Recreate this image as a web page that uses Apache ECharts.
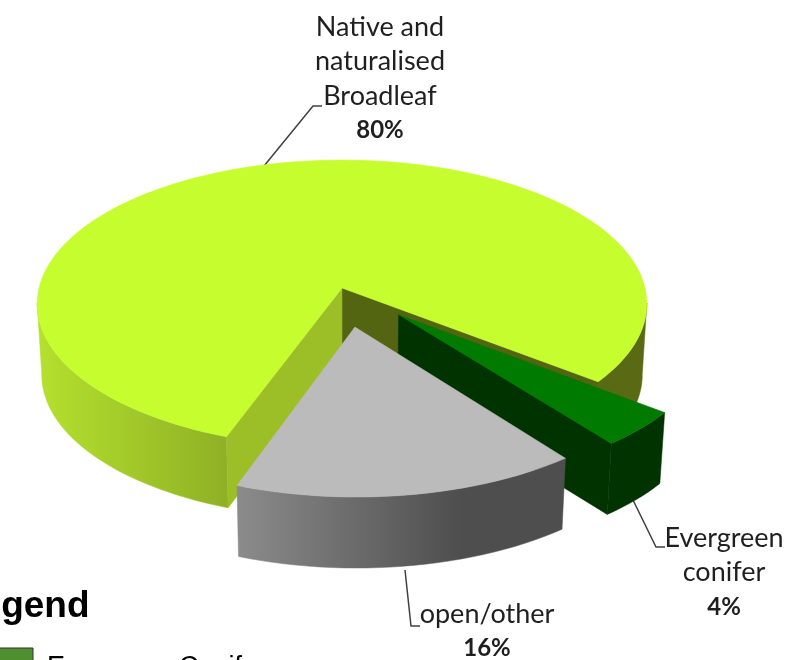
<!DOCTYPE html>
<html>
<head>
<meta charset="utf-8">
<style>html,body{margin:0;padding:0;background:#fff}#c{width:808px;height:660px}</style>
<script src="https://cdn.jsdelivr.net/npm/echarts@6/dist/echarts.min.js"></script>
</head>
<body>
<div id="c"></div>
<script>
// Data, in order round the pie
var categories = ['open/other', 'Evergreen conifer', 'Native and naturalised Broadleaf'];
var values = [16, 4, 80];
var explode = [0.27, 0.26, 0];
var labelLines = [['open/other'], ['Evergreen', 'conifer'], ['Native and', 'naturalised', 'Broadleaf']];
var legendTitle = 'Legend';
var legendEntry = 'Evergreen Conifer';

// Pie projection (layout)
var X0 = 342, Y0 = 288, RX = 303, RY = 142, PERSP = 0.11, DROP = 71, SHRINK = 0.985, START_DEG = -20;
var WALL_RIGHT_END = 84, WALL_LEFT_START = 276;

function project(u, v, low) {
  var f = 1 / (1 - PERSP * v);
  var x = X0 + RX * u * f, y = Y0 + RY * v * f;
  if (low) { x = X0 + (x - X0) * SHRINK; y += DROP; }
  return [x, y];
}
var total = values.reduce(function (a, b) { return a + b; }, 0);
var slices = [], acc = START_DEG;
values.forEach(function (val, i) {
  var sweep = val / total * 360;
  var mid = (acc + sweep / 2) * Math.PI / 180;
  slices.push({ a0: acc, a1: acc + sweep, ou: explode[i] * Math.sin(mid), ov: explode[i] * Math.cos(mid) });
  acc += sweep;
});
function arc(s, a0, a1, low) {
  var pts = [], n = Math.max(2, Math.ceil((a1 - a0) / 2));
  for (var k = 0; k <= n; k++) {
    var a = (a0 + (a1 - a0) * k / n) * Math.PI / 180;
    pts.push(project(Math.sin(a) + s.ou, Math.cos(a) + s.ov, low));
  }
  return pts;
}
function apex(s, low) { return project(s.ou, s.ov, low); }
function poly(points, fill) {
  return { type: 'polygon', shape: { points: points }, style: { fill: fill, stroke: fill, lineWidth: 0.5 } };
}
function wall(s, a0, a1, fill) {
  return poly(arc(s, a0, a1, false).concat(arc(s, a0, a1, true).reverse()), fill);
}
function cut(s, a, fill) {
  var e = arc(s, a, a, false)[0], el = arc(s, a, a, true)[0];
  return poly([apex(s, false), e, el, apex(s, true)], fill);
}
function hGrad(x0, x1, stops) {
  return new echarts.graphic.LinearGradient(x0, 0, x1, 0, stops, true);
}
var builders = [
  function (s) { // open/other
    return [
      wall(s, s.a0, s.a1, hGrad(235, 460, [{ offset: 0, color: '#8c8c8c' }, { offset: 1, color: '#4e4e4e' }])),
      poly(arc(s, s.a0, s.a1, false).concat([apex(s, false)]), '#bbbbbb')
    ];
  },
  function (s) { // evergreen
    return [
      cut(s, s.a0, '#003300'),
      wall(s, s.a0, s.a1, '#003300'),
      poly(arc(s, s.a0, s.a1, false).concat([apex(s, false)]), '#007a00')
    ];
  },
  function (s) { // broadleaf
    return [
      wall(s, s.a0, WALL_RIGHT_END, '#5a6a14'),
      wall(s, WALL_LEFT_START, s.a1, hGrad(40, 228, [{ offset: 0, color: '#b4e02e' }, { offset: 1, color: '#8fb025' }])),
      cut(s, s.a0, '#546512'),
      cut(s, s.a1, '#9cbf28'),
      poly(arc(s, s.a0, s.a1, false).concat([apex(s, false)]), '#c6fd2f')
    ];
  }
];

// Text and leader layout
var FONT = 'Lato, Carlito, sans-serif', TXT = '#1f1f1f';
var labelPos = [{ x: 487, y: 614 }, { x: 724, y: 538 }, { x: 380, y: 27 }];
var leaders = [
  [[405, 570], [411, 626], [420, 626]],
  [[633, 500], [656, 547], [665, 547]],
  [[264, 166], [313, 106], [322, 106]]
];
var LINE_H = 34.5;
var graphics = [];
leaders.forEach(function (pts) {
  graphics.push({ type: 'polyline', z: 1, shape: { points: pts }, style: { stroke: '#404040', lineWidth: 1.5, fill: null } });
});
labelLines.forEach(function (lines, i) {
  lines.forEach(function (t, j) {
    graphics.push({ type: 'text', z: 5, x: labelPos[i].x, y: labelPos[i].y + j * LINE_H,
      style: { text: t, font: '27px ' + FONT, fill: TXT, align: 'center', verticalAlign: 'middle' } });
  });
  graphics.push({ type: 'text', z: 5, x: labelPos[i].x, y: labelPos[i].y + lines.length * LINE_H,
    style: { text: values[i] + '%', font: 'bold 24px ' + FONT, fill: TXT, align: 'center', verticalAlign: 'middle' } });
});
graphics.push({ type: 'text', z: 5, x: -42, y: 607,
  style: { text: legendTitle, font: 'bold 37px "Liberation Sans", Arial, sans-serif', fill: '#000', align: 'left', verticalAlign: 'middle' } });
graphics.push({ type: 'rect', z: 5, shape: { x: -4, y: 648, width: 37, height: 24 }, style: { fill: '#4f8f2f', stroke: '#333', lineWidth: 1 } });
graphics.push({ type: 'text', z: 5, x: 47, y: 668,
  style: { text: legendEntry, font: '27px "Liberation Sans", Arial, sans-serif', fill: '#000', align: 'left', verticalAlign: 'middle' } });

var chart = echarts.init(document.getElementById('c'), null, { renderer: 'canvas' });
chart.setOption({
  backgroundColor: '#ffffff',
  animation: false,
  graphic: graphics,
  series: [{
    type: 'custom',
    coordinateSystem: 'none',
    silent: true,
    z: 2,
    data: [2, 1, 0],
    renderItem: function (params, api) {
      var i = api.value(0);
      return { type: 'group', children: builders[i](slices[i]) };
    }
  }]
});
</script>
</body>
</html>
